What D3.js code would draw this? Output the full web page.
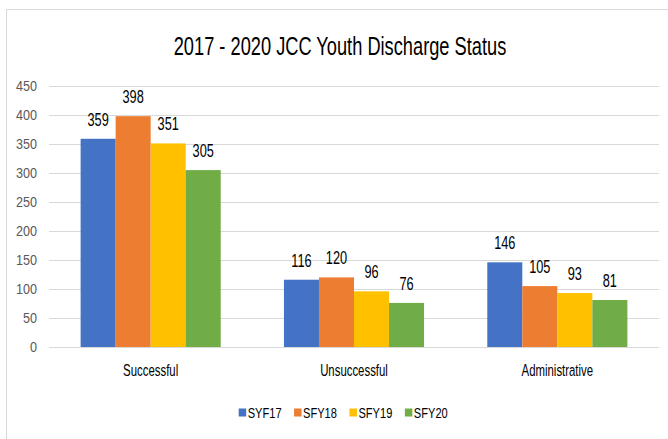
<!DOCTYPE html>
<html>
<head>
<meta charset="utf-8">
<script src="https://cdn.jsdelivr.net/npm/d3@7"></script>
<style>
  html, body { margin: 0; padding: 0; background: #fff; }
  svg { display: block; font-family: "Liberation Sans", Arial, sans-serif; }
</style>
</head>
<body>
<svg id="chart" width="668" height="439"></svg>
<script>
const title = "2017 - 2020 JCC Youth Discharge Status";
const categories = ["Successful", "Unsuccessful", "Administrative"];
const seriesNames = ["SYF17", "SFY18", "SFY19", "SFY20"];
const seriesColors = ["#4472C4", "#ED7D31", "#FFC000", "#70AD47"];
const valuesSYF17 = [359, 116, 146];
const valuesSFY18 = [398, 120, 105];
const valuesSFY19 = [351, 96, 93];
const valuesSFY20 = [305, 76, 81];
const yTicks = [0, 50, 100, 150, 200, 250, 300, 350, 400, 450];

const seriesValues = [valuesSYF17, valuesSFY18, valuesSFY19, valuesSFY20];
const svg = d3.select("#chart");

// chart frame (cropped on right/bottom)
svg.append("path")
  .attr("d", "M6.5,439 L6.5,9.5 L668,9.5")
  .attr("fill", "none").attr("stroke", "#d9d9d9").attr("stroke-width", 1);

const plot = { left: 49, right: 659, top: 86, bottom: 347 };

const x0 = d3.scaleBand().domain(categories)
  .range([plot.left, plot.right]).paddingInner(0.311).paddingOuter(0.1555);
const x1 = d3.scaleBand().domain(seriesNames).range([0, x0.bandwidth()]);
const y = d3.scaleLinear().domain([0, 450]).range([plot.bottom, plot.top]);

// helper: horizontally condensed text
function ctext(sel, x, yy, txt, size, sx, anchor, fill) {
  return sel.append("text")
    .attr("transform", `translate(${x},${yy}) scale(${sx},1)`)
    .attr("text-anchor", anchor)
    .attr("font-size", size)
    .attr("fill", fill)
    .text(txt);
}

// title
ctext(svg, 340, 54.5, title, 25, 0.73, "middle", "#000");

// gridlines
const yAxis = d3.axisLeft(y).tickValues(yTicks).tickSize(-(plot.right - plot.left)).tickPadding(0).tickFormat("");
const gAxis = svg.append("g").attr("transform", `translate(${plot.left},0)`).call(yAxis);
gAxis.select(".domain").remove();
gAxis.selectAll(".tick line").attr("stroke", "#d9d9d9").attr("stroke-width", 1.2);

// y tick labels
yTicks.forEach(t => {
  ctext(svg, 37, y(t) + 5.3, d3.format("d")(t), 15, 0.84, "end", "#595959");
});

// bars
const groups = svg.append("g").selectAll("g").data(categories).join("g")
  .attr("transform", c => `translate(${x0(c)},0)`);

groups.each(function(c, ci) {
  const g = d3.select(this);
  seriesNames.forEach((s, si) => {
    const v = seriesValues[si][ci];
    g.append("rect")
      .attr("x", x1(s)).attr("y", y(v))
      .attr("width", x1.bandwidth()).attr("height", y(0) - y(v))
      .attr("fill", seriesColors[si]);
    ctext(g, x1(s) + x1.bandwidth() / 2, y(v) - 13, String(v), 18.5, 0.69, "middle", "#000");
  });
});

// category labels
categories.forEach(c => {
  ctext(svg, x0(c) + x0.bandwidth() / 2, 376, c, 16.3, 0.7, "middle", "#000");
});

// legend
const legend = svg.append("g");
let lx = 238.7;
seriesNames.forEach((s, i) => {
  legend.append("rect").attr("x", lx).attr("y", 408.5).attr("width", 7.5).attr("height", 8)
    .attr("fill", seriesColors[i]);
  const t = ctext(legend, lx + 9, 418.3, s, 15.4, 0.72, "start", "#000");
  const w = t.node().getComputedTextLength() * 0.72;
  lx += 9 + w + 12.5;
});
</script>
</body>
</html>
